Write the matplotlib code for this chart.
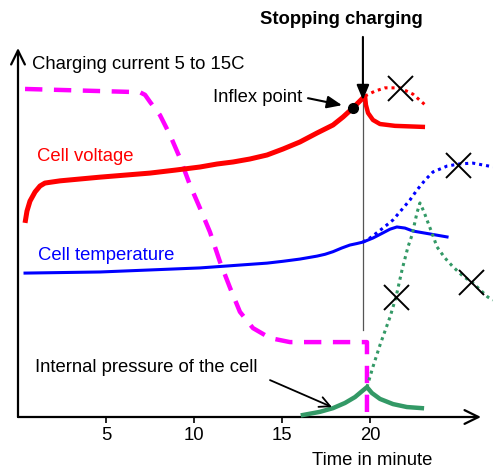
import matplotlib
matplotlib.use("Agg")
import matplotlib.pyplot as plt

plt.rcParams['font.family'] = ['Liberation Sans', 'DejaVu Sans']

# ---- data (time in minutes, arbitrary vertical units 0..100) ----
volt_t = [0.40, 0.51, 0.68, 0.97, 1.25, 1.53, 2.39, 4.66, 7.50, 8.92, 10.34,
          11.31, 12.22, 13.18, 14.15, 15.06, 16.02, 16.99, 17.90, 18.47,
          19.03, 19.60, 19.72]
volt_v = [52.6, 55.8, 58.5, 61.0, 62.6, 63.4, 64.0, 65.0, 66.1, 66.9, 67.75,
          68.56, 69.11, 69.92, 71.00, 72.63, 74.53, 76.96, 79.13, 81.30,
          83.74, 86.45, 87.0]
volt_after_t = [19.72, 19.77, 19.89, 20.17, 20.57, 21.42, 23.13]
volt_after_v = [87.0, 84.6, 82.4, 80.5, 79.4, 78.9, 78.6]
volt_cont_t = [19.72, 20.28, 20.85, 21.70, 22.44, 23.13]
volt_cont_v = [87.0, 88.3, 89.2, 89.2, 87.5, 84.6]

curr_t = [0.40, 6.36, 6.93, 7.22, 7.50, 8.07, 8.64, 9.20, 9.77, 10.34, 10.91,
          11.48, 12.05, 12.61, 13.35, 14.32, 15.45, 19.83, 19.83]
curr_v = [88.9, 88.1, 88.0, 87.3, 85.4, 81.8, 76.4, 70.2, 62.9, 56.6, 50.1,
          42.0, 35.0, 28.5, 24.1, 21.4, 20.3, 20.3, 0.0]

temp_t = [0.40, 4.66, 10.34, 14.15, 15.06, 16.02, 16.99, 17.45, 17.90, 18.40,
          18.86, 19.25, 19.60, 20.17, 20.74, 21.14, 21.53, 21.99, 22.44, 24.38]
temp_v = [39.0, 39.3, 40.4, 41.7, 42.2, 42.8, 43.6, 44.1, 44.8, 45.8,
          46.6, 47.0, 47.4, 48.5, 49.9, 50.9, 51.5, 51.2, 50.4, 48.8]
temp_cont_t = [19.60, 20.0, 20.74, 21.31, 21.88, 22.27, 22.67, 23.13, 23.58,
               24.38, 25.11, 25.85, 26.99]
temp_cont_v = [47.4, 48.5, 51.2, 53.4, 56.6, 58.8, 61.5, 64.2, 66.4,
               68.0, 68.6, 68.8, 67.8]

pres_t = [16.19, 17.16, 17.90, 18.58, 19.15, 19.55, 19.83, 20.11, 20.57,
          21.31, 22.10, 22.95]
pres_v = [0.54, 1.4, 2.4, 3.8, 5.4, 7.0, 8.1, 6.5, 4.9, 3.5, 2.7, 2.4]
pres_cont_t = [19.83, 20.17, 20.57, 21.14, 21.48, 21.82, 22.16, 22.39, 22.67,
               22.84, 23.07, 23.24, 23.52, 23.81, 24.26, 24.72, 25.28, 25.85,
               26.70, 26.99]
pres_cont_v = [8.1, 13.6, 19.5, 27.1, 32.5, 39.8, 46.1, 49.3, 55.3,
               58.0, 55.6, 53.4, 49.9, 46.1, 43.1, 40.7, 38.2, 36.3,
               32.5, 31.7]

cross_t = [21.70, 25.0, 21.48, 25.74]
cross_v = [89.2, 68.3, 32.5, 36.6]

inflex_t, inflex_v = 19.03, 83.7
stop_t = 19.60

tick_pos = [5, 10, 15, 20]
tick_labels = ['5', '10', '15', '20']

FS = 13.3

# ---- figure ----
fig = plt.figure(figsize=(4.93, 4.71), dpi=100)
W, H = 493, 471
ax = fig.add_axes([18 / W, (H - 417) / H, (481 - 18) / W, (417 - 48) / H])
ax.set_xlim(0, 26.31)
ax.set_ylim(0, 100)
for s in ax.spines.values():
    s.set_visible(False)
ax.set_yticks([])
ax.set_xticks(tick_pos)
ax.set_xticklabels(tick_labels, fontsize=FS)
ax.tick_params(axis='x', direction='out', length=4.5, width=1.2, pad=3, color='black')

# axes arrows
for end in [(1.0, 0), (0, 1.0)]:
    ax.annotate('', xy=end, xytext=(0, 0), xycoords='axes fraction',
                arrowprops=dict(arrowstyle='->,head_length=0.67,head_width=0.33',
                                mutation_scale=15, lw=1.6, color='black',
                                shrinkA=0, shrinkB=0))

# vertical stop line
ax.plot([stop_t, stop_t], [23.6, 86.0], color='#555555', lw=0.9, zorder=1)

red, mag, blue, green = '#ff0000', '#ff00ff', '#0000ff', '#339966'
dot = (0, (1, 1.3))

ax.plot(curr_t, curr_v, color=mag, lw=3.2, linestyle=(0, (3.9, 2.6)),
        dash_joinstyle='round', clip_on=False, zorder=2)
ax.plot(volt_t, volt_v, color=red, lw=3.6, solid_capstyle='butt',
        solid_joinstyle='round', clip_on=False, zorder=3)
ax.plot(volt_after_t, volt_after_v, color=red, lw=3.2, solid_capstyle='butt',
        solid_joinstyle='round', clip_on=False, zorder=3)
ax.plot(volt_cont_t, volt_cont_v, color=red, lw=2.2, linestyle=dot,
        clip_on=False, zorder=3)
ax.plot(temp_t, temp_v, color=blue, lw=2.2, solid_joinstyle='round',
        clip_on=False, zorder=3)
ax.plot(temp_cont_t, temp_cont_v, color=blue, lw=2.2, linestyle=dot,
        clip_on=False, zorder=3)
ax.plot(pres_t, pres_v, color=green, lw=3.2, solid_joinstyle='round',
        clip_on=False, zorder=3)
ax.plot(pres_cont_t, pres_cont_v, color=green, lw=2.2, linestyle=dot,
        clip_on=False, zorder=3)

ax.plot(cross_t, cross_v, linestyle='none', marker='x', markersize=18,
        markeredgewidth=1.4, color='black', clip_on=False, zorder=4)
ax.plot([inflex_t], [inflex_v], 'o', color='black', markersize=7, zorder=5)

# texts
ax.text(0.80, 95.4, 'Charging current 5 to 15C', fontsize=FS, va='center',
        ha='left', color='black')
ax.text(1.08, 70.5, 'Cell voltage', fontsize=FS, va='center', ha='left', color=red)
ax.text(1.14, 43.9, 'Cell temperature', fontsize=FS, va='center', ha='left', color=blue)
ax.text(0.97, 13.3, 'Internal pressure of the cell', fontsize=FS, va='center',
        ha='left', color='black')
ax.text(11.08, 86.7, 'Inflex point', fontsize=FS, va='center', ha='left', color='black')
ax.text(18.38, 107.6, 'Stopping charging', fontsize=FS, fontweight='bold',
        va='center', ha='center', color='black', clip_on=False)
ax.text(20.11, -11.7, 'Time in minute', fontsize=FS, va='center', ha='center',
        color='black')

# annotation arrows
ax.annotate('', xy=(stop_t, 85.9), xytext=(stop_t, 103.0),
            arrowprops=dict(arrowstyle='-|>,head_length=0.6,head_width=0.25',
                            mutation_scale=15, lw=1.5, color='black',
                            shrinkA=0, shrinkB=0), annotation_clip=False)
ax.annotate('', xy=(18.41, 84.5), xytext=(16.48, 86.4),
            arrowprops=dict(arrowstyle='-|>,head_length=0.6,head_width=0.25',
                            mutation_scale=15, lw=1.5, color='black',
                            shrinkA=0, shrinkB=0))
ax.annotate('', xy=(17.84, 2.7), xytext=(14.32, 10.0),
            arrowprops=dict(arrowstyle='->,head_length=0.5,head_width=0.25',
                            mutation_scale=15, lw=1.3, color='black',
                            shrinkA=0, shrinkB=0))

fig.savefig('out.png', dpi=100)
